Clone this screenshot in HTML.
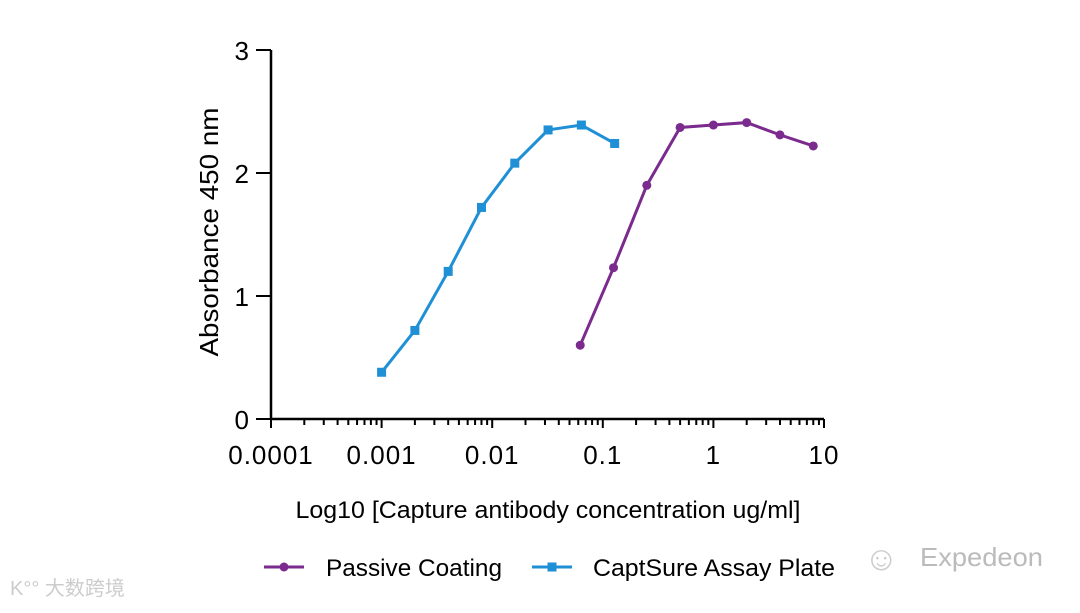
<!DOCTYPE html>
<html><head><meta charset="utf-8"><style>
body{margin:0;background:#fff;width:1080px;height:608px;overflow:hidden;font-family:"Liberation Sans",Arial,sans-serif}
</style></head><body>
<svg width="1080" height="608" id="svg" xmlns="http://www.w3.org/2000/svg" font-family="Liberation Sans, Arial, sans-serif">
<g id="axes"></g>
<g id="series"></g>
<text x="218" y="232" font-size="26" text-anchor="middle" textLength="249" lengthAdjust="spacingAndGlyphs" transform="rotate(-90 218 232)">Absorbance 450 nm</text>
<text x="548" y="518" font-size="24" text-anchor="middle" textLength="505" lengthAdjust="spacingAndGlyphs">Log10 [Capture antibody concentration ug/ml]</text>
<g>
<g><line x1="264" y1="567" x2="304" y2="567" stroke="#7b2a8e" stroke-width="3"/><circle cx="284" cy="567" r="4.5" fill="#7b2a8e"/><text x="326" y="576" font-size="24" textLength="176" lengthAdjust="spacingAndGlyphs">Passive Coating</text></g>
<g><line x1="532" y1="567" x2="572" y2="567" stroke="#1f8fd6" stroke-width="3"/><rect x="547.5" y="562.5" width="9" height="9" fill="#1f8fd6"/><text x="593" y="576" font-size="24" textLength="242" lengthAdjust="spacingAndGlyphs">CaptSure Assay Plate</text></g>
</g>
<text x="920" y="566" font-size="26" fill="#bbb" textLength="123" lengthAdjust="spacingAndGlyphs">Expedeon</text>
<text x="864" y="570" font-size="34" fill="#ccc">☺</text>
<text x="10" y="595" font-size="20" fill="#ccc" font-family="Liberation Sans, Noto Sans CJK SC, sans-serif">K°° 大数跨境</text>
</svg>
<script>
const xTickLabels=["0.0001","0.001","0.01","0.1","1","10"];
const yTickLabels=["0","1","2","3"];
const captX=[0.001,0.002,0.004,0.008,0.016,0.032,0.064,0.128];
const captY=[0.38,0.72,1.20,1.72,2.08,2.35,2.39,2.24];
const passX=[0.0625,0.125,0.25,0.5,1,2,4,8];
const passY=[0.60,1.23,1.90,2.37,2.39,2.41,2.31,2.22];
const X0=271,DEC=110.6,Y0=419,YU=123;
function sx(v){return X0+DEC*(Math.log10(v)+4);}
function sy(v){return Y0-YU*v;}
const NS="http://www.w3.org/2000/svg";
function mk(tag,attrs,parent){const e=document.createElementNS(NS,tag);for(const k in attrs)e.setAttribute(k,attrs[k]);parent.appendChild(e);return e;}
const ax=document.getElementById('axes');
let l=mk('line',{x1:X0,y1:Y0,x2:sx(10),y2:Y0,stroke:'#000','stroke-width':2.5},ax);


l=mk('line',{x1:X0,y1:sy(3),x2:X0,y2:Y0,stroke:'#000','stroke-width':2.5},ax);


xTickLabels.forEach((t,i)=>{const v=parseFloat(t);const x=sx(v);
 mk('line',{x1:x,y1:Y0,x2:x,y2:Y0+9,stroke:'#000','stroke-width':2},ax);
 const tx=mk('text',{x:x,y:Y0+45,'font-size':26,'text-anchor':'middle','letter-spacing':1},ax);tx.textContent=t;
 
 
 if(i<xTickLabels.length-1){for(let m=2;m<10;m++){const xm=sx(v*m);mk('line',{x1:xm,y1:Y0,x2:xm,y2:Y0+6,stroke:'#000','stroke-width':2},ax);}}
});
yTickLabels.forEach(t=>{const y=sy(parseFloat(t));
 mk('line',{x1:X0-15,y1:y,x2:X0,y2:y,stroke:'#000','stroke-width':2},ax);
 const tx=mk('text',{x:X0-22,y:y+10,'font-size':26,'text-anchor':'end'},ax);tx.textContent=t;
 
 
});
const sg=document.getElementById('series');
function draw(xs,ys,color,sq,name){
 const p=mk('polyline',{points:xs.map((x,i)=>sx(x)+','+sy(ys[i])).join(' '),fill:'none',stroke:color,'stroke-width':3},sg);
 
 
 xs.forEach((x,i)=>{let m;
  if(sq)m=mk('rect',{x:sx(x)-4.5,y:sy(ys[i])-4.5,width:9,height:9,fill:color},sg);
  else m=mk('circle',{cx:sx(x),cy:sy(ys[i]),r:4.5,fill:color},sg);
  
  
 });
}
draw(captX,captY,'#1f8fd6',true,'captsure');
draw(passX,passY,'#7b2a8e',false,'passive');
</script>
</body></html>
